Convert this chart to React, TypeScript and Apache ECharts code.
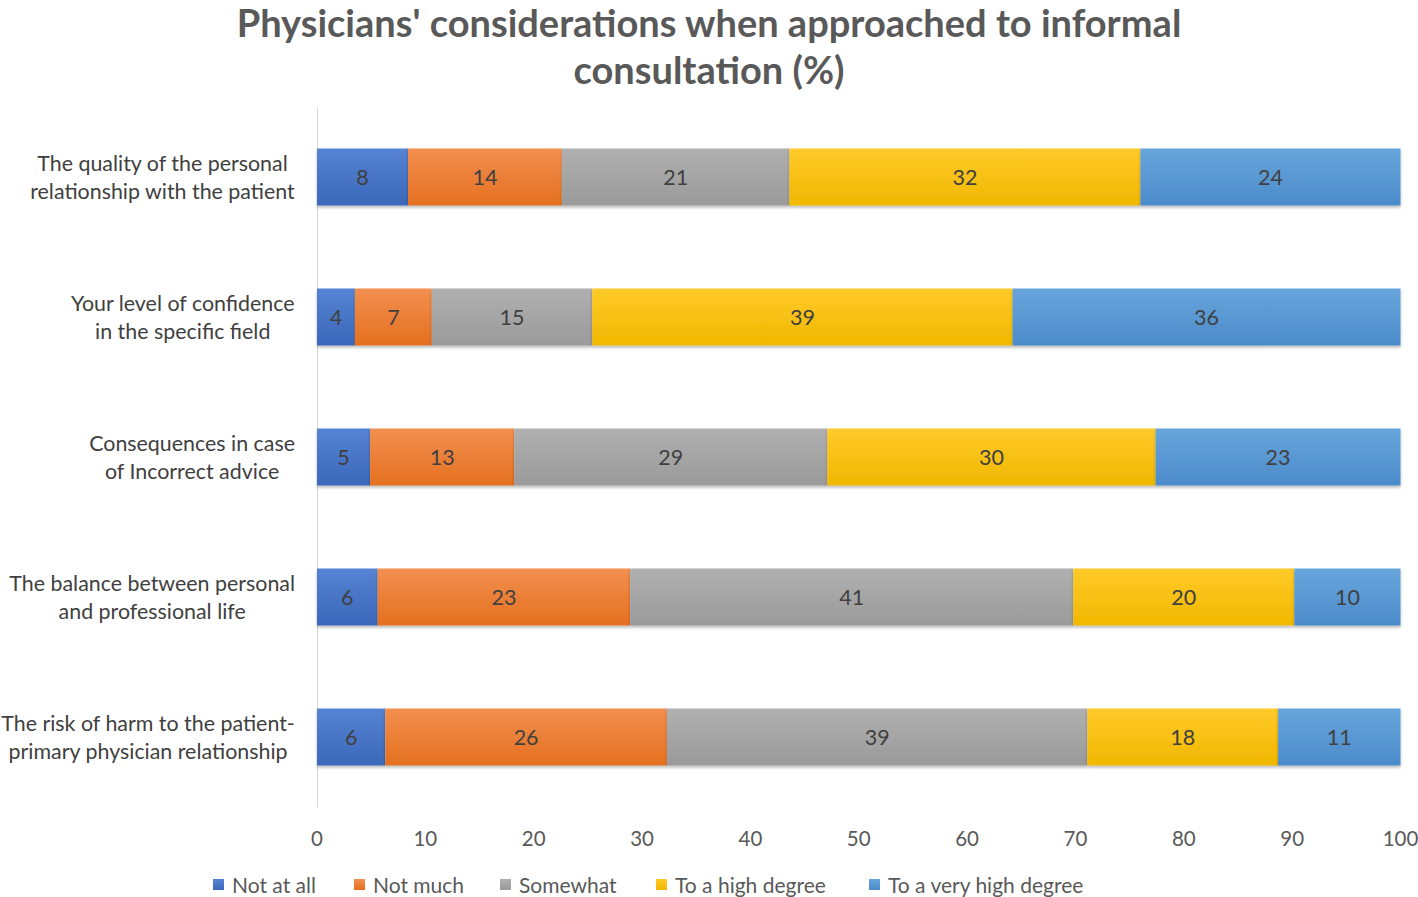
import React, { useEffect, useRef } from "react";
import * as echarts from "echarts";

const categories = [
  "The quality of the personal\nrelationship with the patient",
  "Your level of confidence\nin the specific field",
  "Consequences in case\nof Incorrect advice",
  "The balance between personal\nand professional life",
  "The risk of harm to the patient-\nprimary physician relationship",
];
const seriesNames = ["Not at all", "Not much", "Somewhat", "To a high degree", "To a very high degree"];
const notAtAll = [8.4, 3.5, 4.9, 5.6, 6.3];
const notMuch = [14.2, 7.1, 13.3, 23.3, 26.0];
const somewhat = [21.0, 14.8, 28.9, 40.9, 38.8];
const highDegree = [32.4, 38.8, 30.3, 20.4, 17.6];
const veryHighDegree = [24.0, 35.9, 22.6, 9.8, 11.3];
const xTicks = { min: 0, max: 100, interval: 10 };

const colorsTop = ["#5683d3", "#f38f50", "#b0b0b0", "#ffca2a", "#67a5dc"];
const colorsBottom = ["#3b68ba", "#e4701f", "#9a9a9a", "#f0b800", "#4b8bca"];
const legendLeft = [208, 349, 495, 651, 864];

const FONT = "Lato";

export default function App() {
  const ref = useRef<HTMLDivElement>(null);
  useEffect(() => {
    if (!ref.current) return;
    const chart = echarts.init(ref.current, null, { renderer: "svg" });
    const values = [notAtAll, notMuch, somewhat, highDegree, veryHighDegree];
    const titleStyle = { fontFamily: FONT, fontWeight: "bold", fontSize: 38, color: "#595959" };
    chart.setOption({
      animation: false,
      backgroundColor: "#ffffff",
      textStyle: { fontFamily: FONT },
      color: colorsBottom,
      title: {
        text: "{a|Physicians' considerations when approached to informal}\n{b|consultation (%)}",
        left: "center",
        top: 3,
        padding: 0,
        textStyle: {
          ...titleStyle,
          rich: {
            a: { ...titleStyle, lineHeight: 38 },
            b: { ...titleStyle, lineHeight: 56 },
          },
        },
      },
      legend: seriesNames.map((name, i) => ({
        data: [name],
        left: legendLeft[i],
        top: 869,
        itemWidth: 11,
        itemHeight: 11,
        icon: "rect",
        selectedMode: false,
        textStyle: { fontFamily: FONT, fontSize: 21, color: "#595959", padding: [0, 0, 0, 3] },
      })),
      grid: {
        left: 317,
        right: 17.5,
        top: 107,
        height: 700,
        containLabel: false,
        outerBoundsMode: "none",
      },
      xAxis: {
        type: "value",
        min: xTicks.min,
        max: xTicks.max,
        interval: xTicks.interval,
        axisLine: { show: false },
        axisTick: { show: false },
        splitLine: { show: false },
        axisLabel: { fontFamily: FONT, fontSize: 20.5, color: "#595959", margin: 20 },
      },
      yAxis: {
        type: "category",
        data: categories,
        inverse: true,
        axisLine: { show: true, lineStyle: { color: "#d9d9d9", width: 1 } },
        axisTick: { show: false },
        axisLabel: {
          margin: 22,
          formatter: (v: string) =>
            v
              .split("\n")
              .map((l) => "{c|" + l + "}")
              .join("\n"),
          rich: {
            c: { align: "center", fontFamily: FONT, fontSize: 21.4, color: "#404040", lineHeight: 28 },
          },
        },
      },
      series: seriesNames.map((name, i) => ({
        name,
        type: "bar",
        stack: "total",
        barWidth: 57,
        data: values[i],
        itemStyle: {
          color: new echarts.graphic.LinearGradient(0, 0, 0, 1, [
            { offset: 0, color: colorsTop[i] },
            { offset: 1, color: colorsBottom[i] },
          ]),
          shadowColor: "rgba(0,0,0,0.28)",
          shadowBlur: 3,
          shadowOffsetY: 2,
        },
        label: {
          show: true,
          position: "inside",
          fontFamily: FONT,
          fontSize: 21.5,
          color: "#404040",
          formatter: (p: any) => String(Math.round(p.value)),
        },
      })),
    });
    return () => chart.dispose();
  }, []);
  return (
    <div
      ref={ref}
      style={{ position: "fixed", left: 0, top: 0, width: 1418, height: 897, background: "#fff" }}
    />
  );
}
